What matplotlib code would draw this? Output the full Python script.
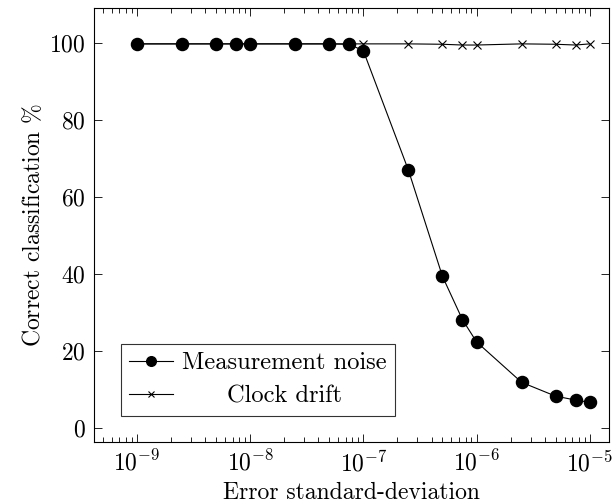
import matplotlib
matplotlib.use("Agg")
import matplotlib.pyplot as plt
from matplotlib.ticker import LogLocator, FixedLocator, NullLocator

plt.rcParams['font.family'] = 'serif'
plt.rcParams['font.serif'] = ['cmr10']
plt.rcParams['mathtext.fontset'] = 'cm'
plt.rcParams['axes.formatter.use_mathtext'] = True

x_vals = [1e-9, 2.5e-9, 5e-9, 7.5e-9, 1e-8, 2.5e-8, 5e-8, 7.5e-8,
          1e-7, 2.5e-7, 5e-7, 7.5e-7, 1e-6, 2.5e-6, 5e-6, 7.5e-6, 1e-5]
measurement_noise = [99.8, 99.8, 99.8, 99.8, 99.8, 99.8, 99.8, 99.7,
                     98.0, 67.0, 39.4, 28.2, 22.4, 11.9, 8.3, 7.3, 6.7]
clock_drift = [99.8, 99.8, 99.8, 99.8, 99.8, 99.8, 99.8, 99.8,
               99.8, 99.8, 99.7, 99.5, 99.5, 99.8, 99.7, 99.5, 99.8]
x_major_ticks = [1e-9, 1e-8, 1e-7, 1e-6, 1e-5]
y_ticks = [0, 20, 40, 60, 80, 100]

FS = 17
fig = plt.figure(figsize=(6.16, 5.04), dpi=100)
ax = fig.add_axes([0.1526, 0.123, 0.836, 0.861])

ax.plot(x_vals, measurement_noise, color='black', lw=0.8, marker='o',
        markersize=8.7, label='Measurement noise', zorder=3)
ax.plot(x_vals, clock_drift, color='black', lw=0.8, marker='x',
        markersize=5.5, markeredgewidth=0.8, label='Clock drift', zorder=2)

ax.set_xscale('log')
ax.set_xlim(10**-9.38, 10**-4.83)
ax.set_ylim(-3.6, 109.1)
ax.yaxis.set_major_locator(FixedLocator(y_ticks))
ax.yaxis.set_minor_locator(NullLocator())
ax.xaxis.set_major_locator(FixedLocator(x_major_ticks))
ax.xaxis.set_minor_locator(LogLocator(base=10, subs=range(2, 10), numticks=20))

ax.tick_params(which='both', direction='in', top=True, right=True,
               labelsize=FS, width=0.6)
ax.tick_params(which='major', length=6, pad=6)
ax.tick_params(which='minor', length=3.5)
for s in ax.spines.values():
    s.set_linewidth(0.8)

ax.set_xlabel('Error standard-deviation', fontsize=FS, labelpad=4)
ax.set_ylabel(r'Correct classification $\%$', fontsize=FS, labelpad=3)

leg = ax.legend(loc='lower left', bbox_to_anchor=(0.052, 0.06), fontsize=17.6,
                frameon=True, fancybox=False, edgecolor='black',
                borderpad=0.35, handlelength=1.8, labelspacing=0.45,
                handletextpad=0.35, borderaxespad=0, markerscale=0.8)
leg.get_frame().set_linewidth(0.8)

fig.canvas.draw()
w0 = leg.texts[0].get_window_extent().width
w1 = leg.texts[1].get_window_extent().width
leg.texts[1].set_x((w0 - w1) / 2)

fig.savefig('out.png', dpi=100)
